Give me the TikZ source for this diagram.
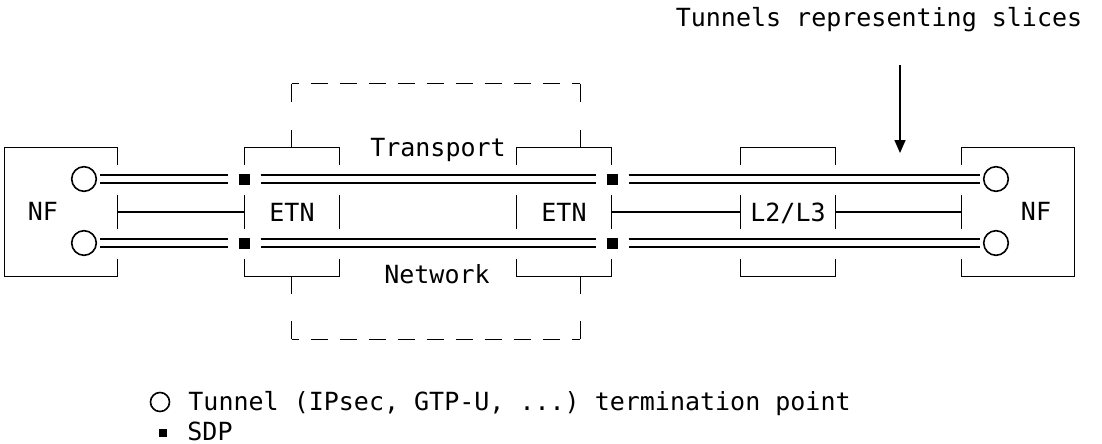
\documentclass[tikz,border=0pt]{standalone}
\usepackage{fontspec}
\setmonofont{DejaVu Sans Mono}
\usetikzlibrary{arrows.meta}

\begin{document}
\begin{tikzpicture}[x=0.5pt, y=-0.5pt,
                    font=\ttfamily\fontsize{12.5pt}{15pt}\selectfont,
                    >={Triangle[length=6.5pt, width=5.5pt]},
                    wire/.style={line width=0.8pt},
                    unit/.style={inner sep=0pt, minimum width=47pt, minimum height=64pt, text height=9.1pt, text depth=0pt},
                    nfbox/.style={unit, minimum width=56pt},
                    tep/.style={draw, circle, line width=0.8pt, inner sep=0pt, minimum size=12.3pt, outer sep=2pt},
                    sdp/.style={fill, rectangle, inner sep=0pt, minimum size=5.5pt, outer sep=5.5pt},
                    tunnel/.style={double, double distance=3.2pt, line width=0.75pt},
                    dom/.style={wire, dash pattern=on 8.5pt off 6pt, dash phase=5pt}]

\useasboundingbox (0,0) rectangle (1102,444);

% network functions
\node[nfbox] (nfA) at (61,212) {};
\node[nfbox] (nfB) at (1018,212) {};
\node[anchor=base] (nfAtxt) at (43,220) {NF};
\node[anchor=base] (nfBtxt) at (1036,220) {NF};

% edge nodes and the L2/L3 hop
\node[unit] (etnA) at (292,212) {ETN};
\node[unit] (etnB) at (564,212) {ETN};
\node[unit] (l23) at (788,212) {L2/L3};

% transport network domain
\node[inner sep=0pt, minimum width=144pt, minimum height=127.5pt] (tn) at (436,211.5) {};
\node[anchor=base] (tnTxt) at (438,156) {Transport};
\node[anchor=base] (nwTxt) at (437,283) {Network};

% tunnel end points and SDPs
\foreach \y/\i in {179/1, 243/2} {
  \node[tep] (tA\i) at (84,\y) {};
  \node[tep] (tB\i) at (996,\y) {};
  \node[sdp] (sA\i) at (244,\y) {};
  \node[sdp] (sB\i) at (612,\y) {};
}

% brackets
\foreach \n in {etnA,etnB,l23} {
  \draw[wire] ([yshift=-8.5pt]\n.north west) -- (\n.north west) -- (\n.north east) -- ([yshift=-8.5pt]\n.north east);
  \draw[wire] ([yshift=8.5pt]\n.south west) -- (\n.south west) -- (\n.south east) -- ([yshift=8.5pt]\n.south east);
  \draw[wire] ([yshift=8.5pt]\n.west) -- ([yshift=-8.5pt]\n.west);
  \draw[wire] ([yshift=8.5pt]\n.east) -- ([yshift=-8.5pt]\n.east);
}
\draw[wire] ([yshift=-8.5pt]nfA.north east) -- (nfA.north east) -- (nfA.north west)
            -- (nfA.south west) -- (nfA.south east) -- ([yshift=8.5pt]nfA.south east);
\draw[wire] ([yshift=8.5pt]nfA.east) -- ([yshift=-8.5pt]nfA.east);
\draw[wire] ([yshift=-8.5pt]nfB.north west) -- (nfB.north west) -- (nfB.north east)
            -- (nfB.south east) -- (nfB.south west) -- ([yshift=8.5pt]nfB.south west);
\draw[wire] ([yshift=8.5pt]nfB.west) -- ([yshift=-8.5pt]nfB.west);

% links
\draw[wire] (nfA.east) -- (etnA.west);
\draw[wire] (etnB.east) -- (l23.west);
\draw[wire] (l23.east) -- (nfB.west);

% tunnels
\foreach \i in {1,2} {
  \draw[tunnel] (tA\i) -- (sA\i);
  \draw[tunnel] (sA\i) -- (sB\i);
  \draw[tunnel] (sB\i) -- (tB\i);
}

% domain outline
\draw[wire] (tn.north west) -- ++(0,-9pt);
\draw[wire] (tn.north east) -- ++(0,-9pt);
\draw[wire] (tn.south west) -- ++(0,9pt);
\draw[wire] (tn.south east) -- ++(0,9pt);
\draw[dom] (tn.north west) -- (tn.north east);
\draw[dom] (tn.south west) -- (tn.south east);
\draw[wire] (etnA.north -| tn.west) -- ++(0,9pt);
\draw[wire] (etnB.north -| tn.east) -- ++(0,9pt);
\draw[wire] (etnA.south -| tn.west) -- ++(0,-9pt);
\draw[wire] (etnB.south -| tn.east) -- ++(0,-9pt);

% slices
\node[anchor=base] (slices) at (879,27) {Tunnels representing slices};
\coordinate (slc) at (900,153);
\draw[wire, ->, shorten <=13pt] (slices.south -| slc) -- (slc);

% legend
\node[tep, minimum size=9.5pt] (lgT) at (160,402) {};
\node[anchor=base west, inner sep=0pt] (lgTtxt) at (188,410) {Tunnel (IPsec, GTP-U, ...) termination point};
\node[sdp, minimum size=4pt] (lgS) at (163,433) {};
\node[anchor=base west, inner sep=0pt] (lgStxt) at (187,440) {SDP};

\end{tikzpicture}
\end{document}
